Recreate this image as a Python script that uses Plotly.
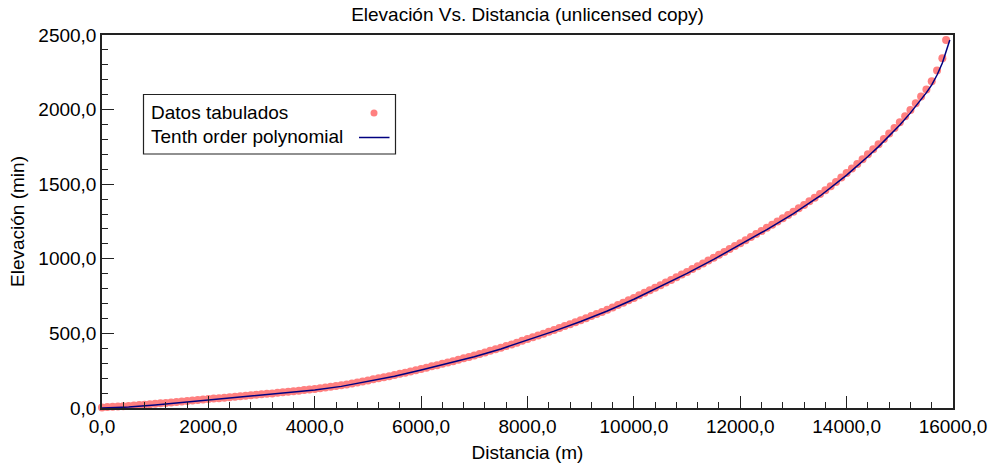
import plotly.graph_objects as go

# ---------------- data ----------------
distancia = [
    0, 100, 200, 300, 400, 500, 600, 700, 800, 900,
    1000, 1100, 1200, 1300, 1400, 1500, 1600, 1700, 1800, 1900,
    2000, 2100, 2200, 2300, 2400, 2500, 2600, 2700, 2800, 2900,
    3000, 3100, 3200, 3300, 3400, 3500, 3600, 3700, 3800, 3900,
    4000, 4100, 4200, 4300, 4400, 4500, 4600, 4700, 4800, 4900,
    5000, 5100, 5200, 5300, 5400, 5500, 5600, 5700, 5800, 5900,
    6000, 6100, 6200, 6300, 6400, 6500, 6600, 6700, 6800, 6900,
    7000, 7100, 7200, 7300, 7400, 7500, 7600, 7700, 7800, 7900,
    8000, 8100, 8200, 8300, 8400, 8500, 8600, 8700, 8800, 8900,
    9000, 9100, 9200, 9300, 9400, 9500, 9600, 9700, 9800, 9900,
    10000, 10100, 10200, 10300, 10400, 10500, 10600, 10700, 10800, 10900,
    11000, 11100, 11200, 11300, 11400, 11500, 11600, 11700, 11800, 11900,
    12000, 12100, 12200, 12300, 12400, 12500, 12600, 12700, 12800, 12900,
    13000, 13100, 13200, 13300, 13400, 13500, 13600, 13700, 13800, 13900,
    14000, 14100, 14200, 14300, 14400, 14500, 14600, 14700, 14800, 14900,
    15000, 15100, 15200, 15300, 15400, 15500, 15600, 15700, 15800, 15870,
]
elevacion = [
    3, 6, 8, 10, 12, 14, 17, 20, 22, 25,
    28, 31, 34, 37, 40, 44, 47, 50, 53, 57,
    60, 63, 66, 69, 72, 76, 79, 82, 85, 89,
    92, 95, 98, 102, 105, 109, 112, 116, 120, 124,
    128, 132, 137, 142, 147, 153, 158, 164, 171, 178,
    185, 192, 199, 206, 213, 221, 229, 237, 245, 253,
    262, 270, 279, 287, 296, 305, 314, 323, 333, 342,
    352, 362, 372, 383, 393, 404, 415, 426, 438, 450,
    462, 474, 486, 498, 511, 523, 536, 549, 562, 575,
    588, 602, 616, 630, 644, 659, 674, 690, 706, 722,
    738, 755, 772, 789, 806, 823, 841, 858, 876, 894,
    912, 931, 950, 969, 988, 1007, 1027, 1046, 1066, 1085,
    1105, 1125, 1146, 1167, 1187, 1208, 1229, 1250, 1271, 1293,
    1315, 1338, 1361, 1385, 1409, 1434, 1460, 1487, 1515, 1545,
    1575, 1605, 1636, 1668, 1701, 1734, 1768, 1803, 1839, 1876,
    1915, 1956, 1998, 2042, 2087, 2135, 2190, 2262, 2345, 2466,
]

poly_x = [0, 500, 1000, 1500, 2000, 2500, 3000, 3500, 4000, 4500,
          5000, 5500, 6000, 6500, 7000, 7500, 8000, 8500, 9000, 9500,
          10000, 10500, 11000, 11500, 12000, 12500, 13000, 13500, 14000, 14200,
          14400, 14600, 14800, 15000, 15200, 15400, 15500, 15600, 15700, 15800,
          15900, 15940]
poly_y = [0, 6, 20, 36, 52, 68, 84, 101, 120, 145,
          177, 213, 254, 297, 344, 396, 454, 515, 580, 650,
          729, 814, 902, 996, 1094, 1196, 1302, 1421, 1561, 1622,
          1686, 1752, 1822, 1897, 1978, 2066, 2114, 2166, 2232, 2312,
          2420, 2466]

x_tickvals = [0, 2000, 4000, 6000, 8000, 10000, 12000, 14000, 16000]
x_ticktext = ["0,0", "2000,0", "4000,0", "6000,0", "8000,0", "10000,0",
              "12000,0", "14000,0", "16000,0"]
y_tickvals = [0, 500, 1000, 1500, 2000, 2500]
y_ticktext = ["0,0", "500,0", "1000,0", "1500,0", "2000,0", "2500,0"]

legend_names = ["Datos tabulados", "Tenth order polynomial"]

# ---------------- layout constants ----------------
W, H = 992, 474
ML, MR, MT, MB = 102, 39, 35, 66
PW, PH = W - ML - MR, H - MT - MB
FONT = "Liberation Sans, Arial, sans-serif"
FS = 19
DOT_COLOR = "rgb(255,128,128)"
LINE_COLOR = "#000080"
AXIS_COLOR = "#222222"


def px_x(px):
    return (px - ML) / PW


def px_y(py):
    return (H - MB - py) / PH


fig = go.Figure()
fig.add_trace(go.Scatter(
    x=distancia, y=elevacion, mode="markers", name=legend_names[0],
    marker=dict(size=8, color=DOT_COLOR, line=dict(width=0)),
    showlegend=False, cliponaxis=False))
fig.add_trace(go.Scatter(
    x=poly_x, y=poly_y, mode="lines", name=legend_names[1],
    line=dict(color=LINE_COLOR, width=1.5),
    showlegend=False, cliponaxis=False))

axis_common = dict(
    showgrid=False, zeroline=False, showline=True, linecolor=AXIS_COLOR,
    linewidth=1.5, mirror=True, ticks="inside", ticklen=12, tickwidth=1.2,
    tickcolor=AXIS_COLOR, tickfont=dict(family=FONT, size=FS, color="black"),
)

fig.update_xaxes(
    range=[0, 16000], tickmode="array", tickvals=x_tickvals, ticktext=x_ticktext,
    minor=dict(ticks="inside", ticklen=6, dtick=400, tickcolor=AXIS_COLOR, tickwidth=1.2),
    title=dict(text="Distancia (m)", font=dict(family=FONT, size=FS, color="black"), standoff=10),
    **axis_common)
fig.update_yaxes(
    range=[0, 2500], tickmode="array", tickvals=y_tickvals, ticktext=y_ticktext,
    minor=dict(ticks="inside", ticklen=6, dtick=100, tickcolor=AXIS_COLOR, tickwidth=1.2),
    title=dict(text="Elevación (min)", font=dict(family=FONT, size=FS, color="black"), standoff=9),
    **axis_common)

# legend drawn to match the reference (text left, symbol right)
shapes = [
    dict(type="rect", xref="paper", yref="paper",
         x0=px_x(143.5), x1=px_x(395.5), y0=px_y(154), y1=px_y(94.5),
         line=dict(color=AXIS_COLOR, width=1.2), fillcolor="white", layer="above"),
    dict(type="circle", xref="paper", yref="paper",
         x0=px_x(370.5), x1=px_x(377.5), y0=px_y(116.5), y1=px_y(109.5),
         line=dict(width=0), fillcolor=DOT_COLOR, layer="above"),
    dict(type="line", xref="paper", yref="paper",
         x0=px_x(359), x1=px_x(389.5), y0=px_y(137.5), y1=px_y(137.5),
         line=dict(color=LINE_COLOR, width=1.5), layer="above"),
]
annotations = [
    dict(text=legend_names[0], xref="paper", yref="paper", x=px_x(149), y=px_y(112.5),
         xanchor="left", yanchor="middle", showarrow=False,
         font=dict(family=FONT, size=FS, color="black")),
    dict(text=legend_names[1], xref="paper", yref="paper", x=px_x(149), y=px_y(136.5),
         xanchor="left", yanchor="middle", showarrow=False,
         font=dict(family=FONT, size=FS, color="black")),
]

fig.update_layout(
    width=W, height=H,
    margin=dict(l=ML, r=MR, t=MT, b=MB, autoexpand=False),
    paper_bgcolor="white", plot_bgcolor="white",
    font=dict(family=FONT, size=FS, color="black"),
    title=dict(text="Elevación Vs. Distancia (unlicensed copy)",
               x=(ML + PW / 2) / W, xanchor="center",
               y=1 - 14 / H, yanchor="middle", yref="container",
               font=dict(family=FONT, size=FS, color="black")),
    shapes=shapes, annotations=annotations, showlegend=False,
)

fig.write_html("out.html", config={"displayModeBar": False},
               post_script="document.body.style.margin='0px';")
